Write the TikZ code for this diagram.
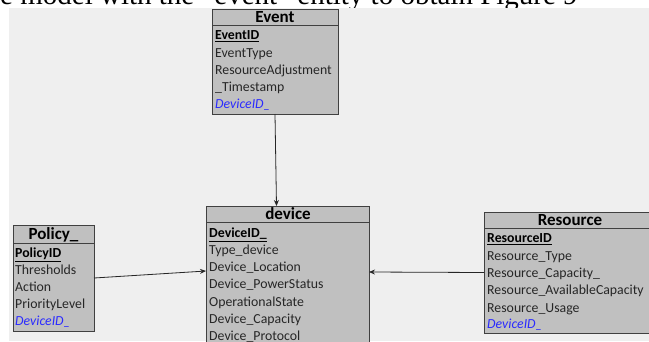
\documentclass[tikz,border=0pt]{standalone}
\usepackage{fontspec}
\setmainfont{Carlito}
\newfontfamily\capfont{Liberation Serif}
\usetikzlibrary{arrows.meta}
\definecolor{bgc}{HTML}{EFEFEF}
\definecolor{boxc}{HTML}{C0C0C0}
\definecolor{edgec}{HTML}{404040}
\definecolor{rowc}{HTML}{262626}
\definecolor{fkc}{HTML}{2B2BFF}
\tikzset{
  entbox/.style={draw=edgec, line width=0.9pt, fill=boxc, anchor=north west, inner sep=0pt, outer sep=0pt},
  hdrline/.style={draw=edgec, line width=0.9pt},
  ttl/.style={anchor=base, inner sep=0pt, font=\fontsize{17}{17}\selectfont\bfseries, text=black},
  row/.style={anchor=base west, inner sep=0pt, font=\fontsize{13.8}{14}\selectfont, text=rowc},
  keyrow/.style={row, text=black, font=\fontsize{13.8}{14}\selectfont\bfseries},
  fkrow/.style={row, text=fkc, font=\fontsize{13.8}{14}\selectfont\itshape},
  link/.style={draw=black!85, line width=0.8pt, -{Stealth[length=6pt,width=5pt]}},
}
\begin{document}
\begin{tikzpicture}[x=1pt,y=-1pt]
\useasboundingbox (0,0) rectangle (649,341);
\clip (0,0) rectangle (649,341);
% cropped caption line
\node[anchor=base west, inner sep=0pt, font=\capfont\fontsize{29}{29}\selectfont] (cap) at (0,4.5) {e model with the “event” entity to obtain Figure 9};
\fill[bgc] (9,8) rectangle (649,341);

% Event
\node[entbox, minimum width=126pt, minimum height=105pt] (event) at (212,9) {};
\draw[hdrline] ([yshift=-16pt]event.north west) -- ([yshift=-16pt]event.north east);
\node[ttl] (eventT) at (275,22.5) {Event};
\node[keyrow] (e1) at (215,39.5) {\underline{EventID}};
\node[row] (e2) at (215,57.5) {EventType};
\node[row] (e3) at (215,74.5) {ResourceAdjustment};
\node[row] (e4) at (215,91.5) {\_Timestamp};
\node[fkrow] (e5) at (215,108.5) {DeviceID\_};

% device
\node[entbox, minimum width=163pt, minimum height=150pt] (device) at (206,206) {};
\draw[hdrline] ([yshift=-16pt]device.north west) -- ([yshift=-16pt]device.north east);
\node[ttl] (deviceT) at (288,219.5) {device};
\node[keyrow] (d1) at (209,237.5) {\underline{DeviceID\_}};
\node[row] (d2) at (209,254.5) {Type\_device};
\node[row] (d3) at (209,271.5) {Device\_Location};
\node[row] (d4) at (209,288.5) {Device\_PowerStatus};
\node[row] (d5) at (209,306) {OperationalState};
\node[row] (d6) at (209,323) {Device\_Capacity};
\node[row] (d7) at (209,340) {Device\_Protocol};

% Policy
\node[entbox, minimum width=81pt, minimum height=106pt] (policy) at (13,225) {};
\draw[hdrline] ([yshift=-18pt]policy.north west) -- ([yshift=-18pt]policy.north east);
\node[ttl] (policyT) at (53.5,239.5) {Policy\_};
\node[keyrow] (p1) at (15,257.5) {\underline{PolicyID}};
\node[row] (p2) at (15,274.5) {Thresholds};
\node[row] (p3) at (15,291.5) {Action};
\node[row] (p4) at (15,308.5) {PriorityLevel};
\node[fkrow] (p5) at (15,325.5) {DeviceID\_};

% Resource
\node[entbox, minimum width=172pt, minimum height=121pt] (resource) at (484,212) {};
\draw[hdrline] ([yshift=-16pt]resource.north west) -- ([yshift=-16pt]resource.north east);
\node[ttl] (resourceT) at (570,225.5) {Resource};
\node[keyrow] (r1) at (487,242.5) {\underline{ResourceID}};
\node[row] (r2) at (487,260.5) {Resource\_Type};
\node[row] (r3) at (487,277.5) {Resource\_Capacity\_};
\node[row] (r4) at (487,294.5) {Resource\_AvailableCapacity};
\node[row] (r5) at (487,312.5) {Resource\_Usage};
\node[fkrow] (r6) at (487,328.5) {DeviceID\_};

% connectors
\draw[link] (event.south) -- ([xshift=-11pt]device.north);
\draw[link] (policy.east) -- ([yshift=-65pt]device.north west);
\draw[link] (resource.west) -- ([yshift=-66pt]device.north east);
\end{tikzpicture}
\end{document}
